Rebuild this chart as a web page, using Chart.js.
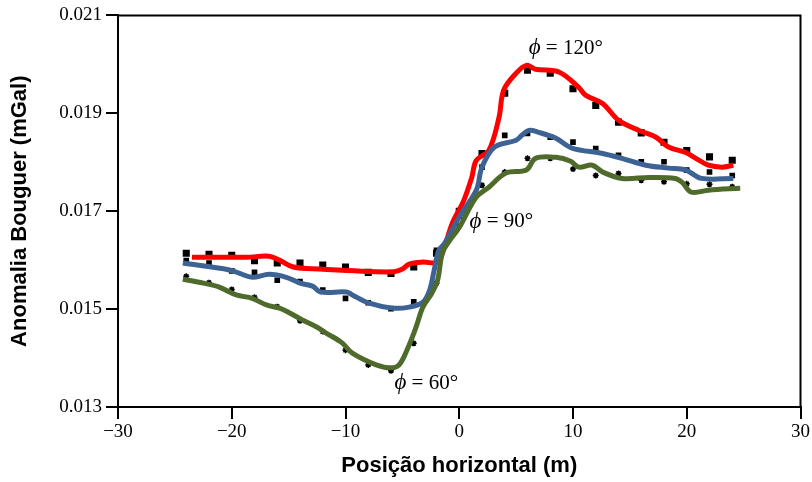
<!DOCTYPE html>
<html>
<head>
<meta charset="utf-8">
<script src="https://cdn.jsdelivr.net/npm/chart.js@4.4.1/dist/chart.umd.min.js"></script>
<style>
  html, body { margin: 0; padding: 0; background: #fff; }
</style>
</head>
<body>
<canvas id="myChart" width="812" height="482"></canvas>
<script>
// profile traces, phi = 120 / 90 / 60 degrees
const redX = [-23.5, -18.7, -16.7, -15.8, -14.6, -12.3, -5.9, -5.0, -4.4, -3.2, -1.9, -1.3, -0.6, 0.4, 1.1, 1.5, 2.6, 3.5, 3.9, 5.0, 5.9, 6.7, 8.8, 10.5, 11.1, 12.6, 14.0, 15.8, 17.3, 18.4, 19.9, 20.8, 21.9, 23.1, 24.1];
const redY = [0.01606, 0.01606, 0.01608, 0.0160, 0.01586, 0.01582, 0.01576, 0.01582, 0.01592, 0.01596, 0.01596, 0.01627, 0.01676, 0.01722, 0.01769, 0.01804, 0.01824, 0.01892, 0.01947, 0.01982, 0.01998, 0.0199, 0.01984, 0.01953, 0.01937, 0.0192, 0.01886, 0.01865, 0.01851, 0.01831, 0.0182, 0.01808, 0.01794, 0.0179, 0.01794];

const blueX = [-24.3, -20.2, -19.3, -18.2, -16.7, -15.2, -14.0, -12.9, -12.2, -9.9, -9.4, -7.9, -5.9, -4.4, -3.2, -2.6, -2.2, -1.8, -1.3, 0, 1.5, 2.0, 3.1, 5.0, 5.5, 6.1, 7.0, 8.5, 9.9, 12.6, 14.3, 16.4, 18.4, 19.9, 21.3, 24.1];
const blueY = [0.01594, 0.0158, 0.01573, 0.01565, 0.01571, 0.01565, 0.01553, 0.01547, 0.01535, 0.01535, 0.01529, 0.01512, 0.01502, 0.01504, 0.01514, 0.01539, 0.0158, 0.0162, 0.01634, 0.01688, 0.01743, 0.0179, 0.01831, 0.01845, 0.01855, 0.01865, 0.01861, 0.01849, 0.01829, 0.01818, 0.01808, 0.01794, 0.01788, 0.01784, 0.01767, 0.01767];

const greenX = [-24.3, -22.5, -21.1, -19.6, -18.2, -16.9, -15.8, -14.9, -13.8, -12.5, -11.7, -10.3, -9.4, -7.3, -6.1, -5.3, -4.6, -3.8, -3.2, -2.4, -1.9, -1.5, -1.0, 0, 1.5, 2.6, 4.1, 5.9, 6.7, 8.5, 9.8, 10.5, 11.7, 12.6, 14.3, 16.7, 19.0, 19.6, 20.4, 21.9, 24.7];
const greenY = [0.01561, 0.01553, 0.01545, 0.01529, 0.01522, 0.01508, 0.01502, 0.01492, 0.01478, 0.01463, 0.01451, 0.01431, 0.0141, 0.01386, 0.0138, 0.01386, 0.01416, 0.01463, 0.01504, 0.01533, 0.01559, 0.01614, 0.01635, 0.01667, 0.01729, 0.01749, 0.01778, 0.01784, 0.01808, 0.0181, 0.01802, 0.0179, 0.01794, 0.0178, 0.01767, 0.01769, 0.01767, 0.01759, 0.01739, 0.01743, 0.01747];

// measured stations every 2 m
const stationX = [-24, -22, -20, -18, -16, -14, -12, -10, -8, -6, -4, -2, 0, 2, 4, 6, 8, 10, 12, 14, 16, 18, 20, 22, 24];
const obs120 = [0.01614, 0.01612, 0.0161, 0.01599, 0.01594, 0.01594, 0.0159, 0.01586, 0.01575, 0.01573, 0.01586, 0.01614, 0.0170, 0.01818, 0.01941, 0.01988, 0.01982, 0.0195, 0.01916, 0.01882, 0.0186, 0.01841, 0.01824, 0.01811, 0.01804];
const obs90 = [0.01599, 0.01594, 0.01578, 0.01575, 0.01559, 0.01556, 0.01539, 0.01522, 0.01513, 0.01501, 0.01515, 0.0162, 0.0169, 0.0179, 0.01855, 0.01859, 0.01851, 0.01841, 0.01828, 0.01814, 0.01801, 0.01801, 0.01784, 0.0178, 0.01773];
const obs60 = [0.01567, 0.01554, 0.0154, 0.01524, 0.01505, 0.01476, 0.01454, 0.01416, 0.01386, 0.01374, 0.0143, 0.01553, 0.0167, 0.01753, 0.0178, 0.01808, 0.01808, 0.01786, 0.01773, 0.01777, 0.01763, 0.0176, 0.01756, 0.01755, 0.0175];

const xTicks = [-30, -20, -10, 0, 10, 20, 30];
const yTicks = [0.013, 0.015, 0.017, 0.019, 0.021];

// angle labels beside each curve
const phiText = ["120°", "90°", "60°"];
const phiX = [6.1, 0.9, -5.7];
const phiY = [0.02033, 0.01678, 0.01349];

const pts = (xs, ys) => xs.map((x, i) => ({ x: x, y: ys[i] }));

const serif = "'Liberation Serif', 'Times New Roman', serif";
const sans = "'Liberation Sans', Arial, sans-serif";

function curve(data, color) {
  return {
    type: "line",
    data: data,
    borderColor: color,
    borderWidth: 5,
    pointRadius: 0,
    tension: 0.35,
    fill: false,
  };
}

function stations(data, style, radius, width) {
  return {
    type: "scatter",
    data: data,
    pointStyle: style,
    pointRadius: radius,
    backgroundColor: "#000",
    borderColor: "#000",
    borderWidth: width,
  };
}

const frameBox = {
  id: "frameBox",
  afterDraw(chart) {
    const { ctx, chartArea: a } = chart;
    ctx.save();
    ctx.strokeStyle = "#000";
    ctx.lineWidth = 2;
    ctx.beginPath();
    ctx.moveTo(a.left, a.top);
    ctx.lineTo(a.right, a.top);
    ctx.lineTo(a.right, a.bottom);
    ctx.stroke();
    ctx.restore();
  },
};

const phiLabels = {
  id: "phiLabels",
  afterDatasetsDraw(chart) {
    const { ctx, scales } = chart;
    ctx.save();
    ctx.fillStyle = "#000";
    ctx.textBaseline = "middle";
    for (let i = 0; i < phiText.length; i++) {
      let px = scales.x.getPixelForValue(phiX[i]);
      const py = scales.y.getPixelForValue(phiY[i]);
      ctx.font = "italic 23px " + serif;
      ctx.fillText("\u03D5", px, py);
      px += ctx.measureText("\u03D5").width;
      ctx.font = "21px " + serif;
      ctx.fillText(" = " + phiText[i], px, py);
    }
    ctx.restore();
  },
};

new Chart(document.getElementById("myChart"), {
  data: {
    datasets: [
      curve(pts(greenX, greenY), "#4e6b2c"),
      curve(pts(blueX, blueY), "#3d6395"),
      curve(pts(redX, redY), "#ff0000"),
      stations(pts(stationX, obs120), "rect", 5, 0),
      stations(pts(stationX, obs90), "rect", 4, 0),
      stations(pts(stationX, obs60), "star", 3, 1.5),
    ],
  },
  options: {
    responsive: false,
    animation: false,
    layout: { padding: { top: 15, right: 10, left: 0, bottom: 0 } },
    plugins: { legend: { display: false }, tooltip: { enabled: false } },
    scales: {
      x: {
        type: "linear",
        min: -30,
        max: 30,
        afterBuildTicks: (s) => { s.ticks = xTicks.map((v) => ({ value: v })); },
        afterFit: (s) => { s.height = 75; },
        grid: { drawOnChartArea: false, drawTicks: true, tickLength: 12, color: "#000", lineWidth: 2 },
        border: { display: true, color: "#000", width: 2 },
        ticks: {
          color: "#000",
          padding: 2,
          maxRotation: 0,
          font: { family: serif, size: 19 },
          callback: (v) => String(v).replace("-", "\u2212"),
        },
        title: {
          display: true,
          text: "Posição horizontal (m)",
          color: "#000",
          font: { family: sans, size: 22, weight: "bold" },
          padding: { top: 0, bottom: 3 },
        },
      },
      y: {
        type: "linear",
        min: 0.013,
        max: 0.021,
        afterBuildTicks: (s) => { s.ticks = yTicks.map((v) => ({ value: v })); },
        afterFit: (s) => { s.width = 118; },
        grid: { drawOnChartArea: false, drawTicks: true, tickLength: 12, color: "#000", lineWidth: 2 },
        border: { display: true, color: "#000", width: 2 },
        ticks: {
          color: "#000",
          padding: 4,
          font: { family: serif, size: 19 },
          callback: (v) => v.toFixed(3),
        },
        title: {
          display: true,
          text: "Anomalia Bouguer (mGal)",
          color: "#000",
          font: { family: sans, size: 22, weight: "bold" },
          padding: { top: 7, bottom: 0 },
        },
      },
    },
  },
  plugins: [frameBox, phiLabels],
});
</script>
</body>
</html>
